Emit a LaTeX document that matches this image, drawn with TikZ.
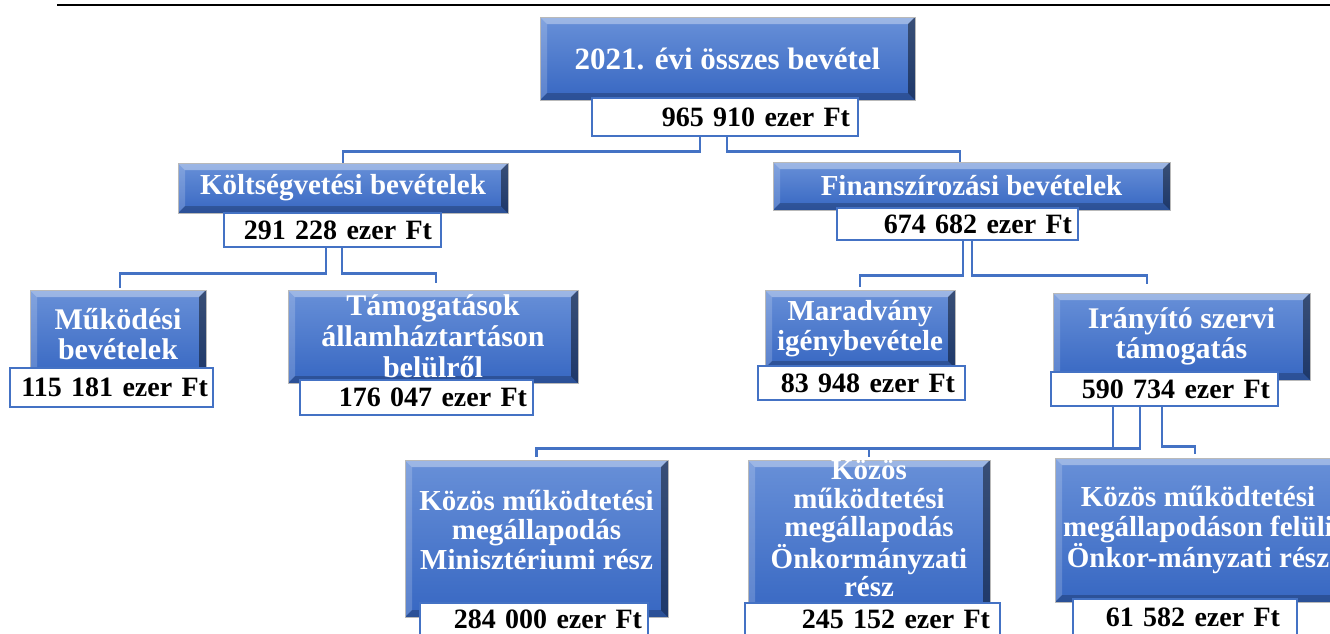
\documentclass[tikz,border=0pt]{standalone}
\usepackage{fontspec}
\setmainfont{Liberation Serif}
\definecolor{accent}{HTML}{4472C4}
\definecolor{boxtop}{HTML}{6890D8}
\definecolor{boxbot}{HTML}{3767C2}
\tikzset{
  conn/.style={draw=accent, line width=2.5pt},
  bluebox/.style={rectangle, inner sep=0pt, top color=boxtop, bottom color=boxbot,
    draw=gray!55, line width=0.8pt, text=white, align=center,
    path picture={
      \fill[white,opacity=.35] (path picture bounding box.north west) -- (path picture bounding box.north east)
        -- ([shift={(-7pt,-7pt)}]path picture bounding box.north east) -- ([shift={(7pt,-7pt)}]path picture bounding box.north west) -- cycle;
      \fill[white,opacity=.18] (path picture bounding box.north west) -- ([shift={(7pt,-7pt)}]path picture bounding box.north west)
        -- ([shift={(7pt,7pt)}]path picture bounding box.south west) -- (path picture bounding box.south west) -- cycle;
      \fill[black,opacity=.45] (path picture bounding box.north east) -- ([shift={(-7pt,-7pt)}]path picture bounding box.north east)
        -- ([shift={(-7pt,7pt)}]path picture bounding box.south east) -- (path picture bounding box.south east) -- cycle;
      \fill[black,opacity=.22] (path picture bounding box.south west) -- ([shift={(7pt,7pt)}]path picture bounding box.south west)
        -- ([shift={(-7pt,7pt)}]path picture bounding box.south east) -- (path picture bounding box.south east) -- cycle;
    }},
  btext/.style={text=white, align=center, inner sep=0pt, font=\bfseries\fontsize{29}{29.5}\selectfont},
  valbox/.style={rectangle, fill=white, draw=accent, line width=2.5pt, inner ysep=0pt,
    align=right, text=black, font=\bfseries\fontsize{28}{30}\selectfont},
}
\begin{document}
\begin{tikzpicture}[x=1pt, y=-1pt]
\useasboundingbox (0,0) rectangle (1330,633);
\clip (0,0) rectangle (1330,633);
% top rule
\draw[line width=2.2pt] (57,5) -- (1330,5);

% level 0
\node[bluebox, minimum width=375pt, minimum height=83pt, font=\bfseries\fontsize{31}{33}\selectfont] (b0) at (727.5,58.5) {2021. évi összes bevétel};
\node[valbox, minimum width=266pt, minimum height=38pt, inner xsep=8pt, text width=250pt] (v0) at (725,117) {965 910 ezer Ft};

% level 1
\node[bluebox, minimum width=330pt, minimum height=50pt, font=\bfseries\fontsize{29}{30}\selectfont] (b1) at (343,188) {Költségvetési bevételek};
\node[valbox, minimum width=217pt, minimum height=34pt, inner xsep=9pt, text width=199pt] (v1) at (332.5,230) {291 228 ezer Ft};
\node[bluebox, minimum width=397pt, minimum height=48pt, font=\bfseries\fontsize{29}{30}\selectfont] (b2) at (971.5,186) {Finanszírozási bevételek};
\node[valbox, minimum width=241pt, minimum height=32pt, inner xsep=6pt, text width=229pt] (v2) at (957.5,224) {674 682 ezer Ft};

% level 2
\node[bluebox, minimum width=176pt, minimum height=88pt, font=\bfseries\fontsize{30}{30}\selectfont] (b3) at (118,334) {Működési\\bevételek};
\node[valbox, minimum width=203pt, minimum height=39pt, inner xsep=5pt, text width=193pt] (v3) at (111.5,387.5) {115 181 ezer Ft};
\node[bluebox, minimum width=290pt, minimum height=93pt, font=\bfseries\fontsize{30}{31}\selectfont] (b4) at (433,336.5) {Támogatások\\államháztartáson\\belülről};
\node[valbox, minimum width=233pt, minimum height=35pt, inner xsep=6pt, text width=221pt] (v4) at (416.5,397.5) {176 047 ezer Ft};
\node[bluebox, minimum width=190pt, minimum height=78pt, font=\bfseries\fontsize{29}{30}\selectfont] (b5) at (860,329) {Maradvány\\igénybevétele};
\node[valbox, minimum width=207pt, minimum height=34pt, inner xsep=10pt, text width=187pt] (v5) at (861.5,383) {83 948 ezer Ft};
\node[bluebox, minimum width=257pt, minimum height=87pt, font=\bfseries\fontsize{30}{30}\selectfont] (b6) at (1181.5,336.5) {Irányító szervi\\támogatás};
\node[valbox, minimum width=227pt, minimum height=34pt, inner xsep=8pt, text width=211pt] (v6) at (1164.5,389) {590 734 ezer Ft};

% level 3
\node[bluebox, minimum width=263pt, minimum height=157pt] (b7) at (536.5,538.5) {};
\node[btext] (t7) at ([yshift=9pt]b7.center) {Közös működtetési\\megállapodás\\Minisztériumi rész};
\node[valbox, minimum width=228pt, minimum height=32pt, inner xsep=6pt, text width=216pt] (v7) at (534,619) {284 000 ezer Ft};
\node[bluebox, minimum width=242pt, minimum height=157pt] (b8) at (869,538.5) {};
\node[btext, font=\bfseries\fontsize{29}{28.5}\selectfont] (t8) at ([yshift=10pt]b8.center) {Közös\\működtetési\\megállapodás\\Önkormányzati\\rész};
\node[valbox, minimum width=255pt, minimum height=32pt, inner xsep=10pt, text width=235pt] (v8) at (872.5,619) {245 152 ezer Ft};
\node[bluebox, minimum width=290pt, minimum height=144pt] (b9) at (1200,530) {};
\node[btext] (t9) at ([xshift=-2pt]b9.center) {Közös működtetési\\megállapodáson felüli\\Önkor-mányzati rész};
\node[valbox, minimum width=224pt, minimum height=36pt, inner xsep=17pt, text width=190pt] (v9) at (1185,617) {61 582 ezer Ft};

% connectors
\draw[conn] ([xshift=-25pt]v0.south) |- ([yshift=11pt]b1.north) -- (b1.north);
\draw[conn] ([xshift=2pt]v0.south) |- ([xshift=-11.5pt,yshift=10pt]b2.north) -- ([xshift=-11.5pt]b2.north);
\draw[conn] ([xshift=-6.5pt]v1.south) |- ([xshift=2pt,yshift=16pt]b3.north) -- ([xshift=2pt,yshift=2pt]b3.north);
\draw[conn] ([xshift=9.5pt]v1.south) |- ([xshift=3pt,yshift=16pt]b4.north) -- ([xshift=3pt,yshift=7pt]b4.north);
\draw[conn] ([xshift=5.5pt]v2.south) |- ([yshift=14pt]b5.north) -- ([yshift=3pt]b5.north);
\draw[conn] ([xshift=14.5pt]v2.south) |- ([xshift=-34.5pt,yshift=17pt]b6.north) -- ([xshift=-34.5pt,yshift=9pt]b6.north);
\draw[conn] ([xshift=-51.5pt]v6.south) |- ([yshift=11pt]b7.north) -- ([yshift=3pt]b7.north);
\draw[conn] ([xshift=-24.5pt]v6.south) |- ([yshift=11pt]b8.north) -- ([yshift=3pt]b8.north);
\draw[conn] ([xshift=-2.5pt]v6.south) |- ([xshift=-5pt,yshift=11pt]b9.north) -- ([xshift=-5pt,yshift=4pt]b9.north);
\end{tikzpicture}
\end{document}
